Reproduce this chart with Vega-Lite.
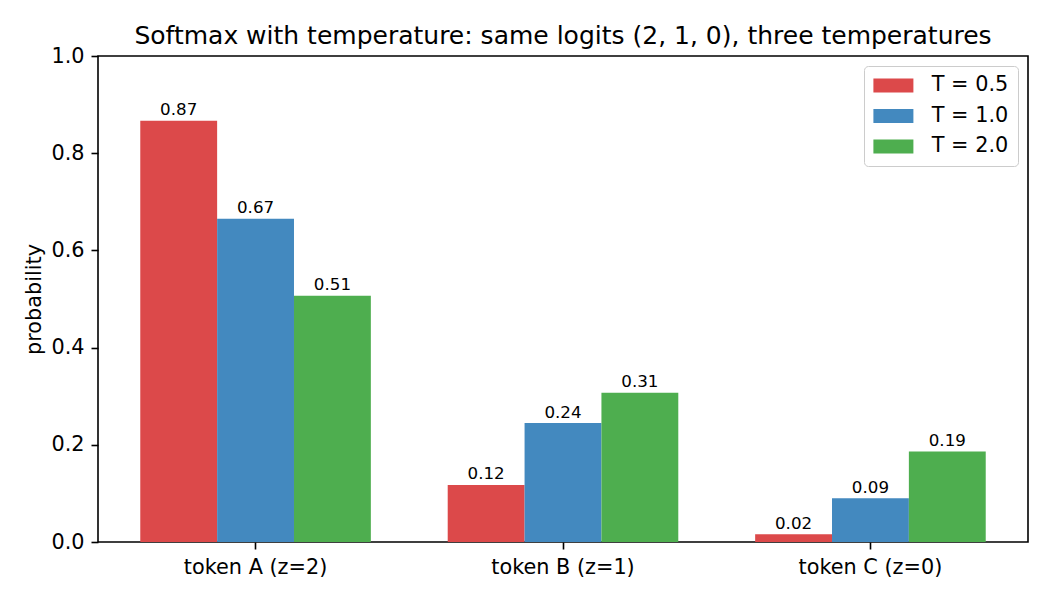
{
  "$schema": "https://vega.github.io/schema/vega-lite/v6.json",
  "width": 930,
  "height": 486,
  "autosize": {"type": "none"},
  "padding": {"left": 98, "top": 56, "right": 22, "bottom": 58},
  "background": "white",
  "config": {
    "font": "DejaVu Sans",
    "view": {"stroke": "#000000", "strokeWidth": 1.6},
    "axis": {"grid": false, "domain": false, "tickColor": "#000000", "tickWidth": 1.6, "tickSize": 7, "labelColor": "#000000", "labelFontSize": 20.8, "labelFont": "DejaVu Sans", "titleFont": "DejaVu Sans", "titleColor": "#000000", "titleFontWeight": "normal", "titleFontSize": 20.8},
    "legend": {"labelFont": "DejaVu Sans"}
  },
  "title": {
    "text": "Softmax with temperature: same logits (2, 1, 0), three temperatures",
    "fontSize": 25,
    "fontWeight": "normal",
    "font": "DejaVu Sans",
    "color": "#000000",
    "anchor": "middle",
    "baseline": "alphabetic",
    "offset": 12.5,
    "dy": 36
  },
  "data": {
    "values": [
      {"token": "token A (z=2)", "T": "T = 0.5", "p": 0.8668},
      {"token": "token B (z=1)", "T": "T = 0.5", "p": 0.1173},
      {"token": "token C (z=0)", "T": "T = 0.5", "p": 0.0159},
      {"token": "token A (z=2)", "T": "T = 1.0", "p": 0.6652},
      {"token": "token B (z=1)", "T": "T = 1.0", "p": 0.2447},
      {"token": "token C (z=0)", "T": "T = 1.0", "p": 0.0900},
      {"token": "token A (z=2)", "T": "T = 2.0", "p": 0.5065},
      {"token": "token B (z=1)", "T": "T = 2.0", "p": 0.3072},
      {"token": "token C (z=0)", "T": "T = 2.0", "p": 0.1863}
    ]
  },
  "encoding": {
    "x": {
      "field": "token",
      "type": "nominal",
      "sort": ["token A (z=2)", "token B (z=1)", "token C (z=0)"],
      "scale": {"paddingInner": 0.25, "paddingOuter": 0.1375},
      "axis": {"title": null, "labelAngle": 0, "labelBaseline": "alphabetic", "labelPadding": 24}
    },
    "xOffset": {
      "field": "T",
      "type": "nominal",
      "sort": ["T = 0.5", "T = 1.0", "T = 2.0"],
      "scale": {"paddingInner": 0, "paddingOuter": 0}
    },
    "y": {
      "field": "p",
      "type": "quantitative",
      "scale": {"domain": [0, 1], "nice": false, "zero": true},
      "axis": {
        "title": "probability",
        "values": [0, 0.2, 0.4, 0.6, 0.8, 1.0],
        "format": ".1f",
        "labelPadding": 7,
        "labelBaseline": "middle",
        "titleX": -64,
        "titleY": 243,
        "titleAngle": -90,
        "titleAlign": "center",
        "titleBaseline": "middle"
      }
    }
  },
  "layer": [
    {
      "mark": {"type": "bar", "opacity": 1},
      "encoding": {
        "color": {
          "field": "T",
          "type": "nominal",
          "sort": ["T = 0.5", "T = 1.0", "T = 2.0"],
          "scale": {"domain": ["T = 0.5", "T = 1.0", "T = 2.0"], "range": ["#dc494a", "#4389bf", "#4eae4f"]},
          "legend": {
            "title": null,
            "orient": "top-right",
            "offset": 10,
            "fillColor": "white",
            "strokeColor": "#cccccc",
            "cornerRadius": 4,
            "padding": 9,
            "symbolType": "M-1,-0.7H3V0.7H-1Z",
            "symbolSize": 400,
            "symbolStrokeWidth": 0,
            "symbolOpacity": 1,
            "labelFontSize": 20.8,
            "labelColor": "#000000",
            "labelOffset": 38,
            "rowPadding": 8.5
          }
        }
      }
    },
    {
      "mark": {"type": "text", "baseline": "alphabetic", "dy": -5.5, "fontSize": 16.7, "color": "#000000", "font": "DejaVu Sans"},
      "encoding": {"text": {"field": "p", "type": "quantitative", "format": ".2f"}}
    }
  ]
}
